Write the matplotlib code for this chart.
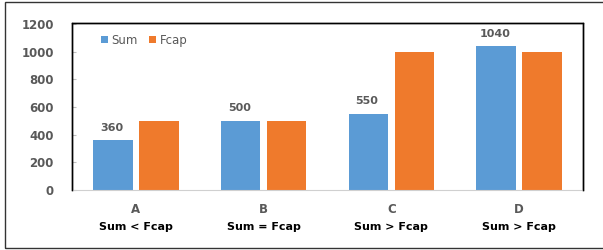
import numpy as np
import matplotlib.pyplot as plt
from matplotlib.patches import Rectangle

categories = ["A", "B", "C", "D"]
conditions = ["Sum < Fcap", "Sum = Fcap", "Sum > Fcap", "Sum > Fcap"]
sum_vals = [360, 500, 550, 1040]
fcap_vals = [500, 500, 1000, 1000]

blue = "#5b9bd5"
orange = "#ef7a2c"
gray = "#595959"

fig = plt.figure(figsize=(6.03, 2.5), dpi=100)
ax = fig.add_axes([72 / 603, 1 - 190 / 250, 511 / 603, 167 / 250])

x = np.arange(len(categories))
w = 0.31
ax.bar(x - 0.18, sum_vals, w, color=blue, label="Sum")
ax.bar(x + 0.18, fcap_vals, w, color=orange, label="Fcap")

# value labels above the Sum bars
for xi, v in zip(x, sum_vals):
    ax.text(xi - 0.19, v + 55, str(v), ha="center", va="bottom",
            fontsize=8, fontweight="bold", color=gray)

ax.set_xlim(-0.5, 3.5)
ax.set_ylim(0, 1208)
ax.set_yticks(range(0, 1201, 200))
ax.tick_params(axis="y", labelsize=8.5, labelcolor=gray, length=3,
               direction="in", color="#bfbfbf", pad=13)
for lab in ax.get_yticklabels():
    lab.set_fontweight("bold")
ax.set_xticks(x)
ax.set_xticklabels([])
ax.tick_params(axis="x", length=0)

for xi, c, cond in zip(x, categories, conditions):
    ax.text(xi, -140, c, ha="center", va="center", fontsize=8.5,
            fontweight="bold", color=gray)
    ax.text(xi, -270, cond, ha="center", va="center", fontsize=8,
            fontweight="bold", color="black")

# chart frame: black on left, top and right, light gray along the bottom
for s in ["left", "top", "right"]:
    ax.spines[s].set_color("black")
    ax.spines[s].set_linewidth(1.0)
ax.spines["bottom"].set_color("#d0d0d0")
ax.plot([0, 0, 1, 1], [0, 1, 1, 0], transform=ax.transAxes, color="black",
        lw=1.0, clip_on=False, zorder=5)

ax.legend(loc="upper left", bbox_to_anchor=(0.035, 1.0), ncol=2, frameon=False,
          fontsize=8.5, labelcolor=gray, handlelength=0.6, handleheight=0.6,
          handletextpad=0.3, columnspacing=1.0)

fig.patches.append(Rectangle((5 / 603, 2 / 250), 610 / 603, 246 / 250,
                             transform=fig.transFigure, fill=False,
                             edgecolor="#333333", linewidth=1.0))

fig.savefig("out.png", dpi=100)
